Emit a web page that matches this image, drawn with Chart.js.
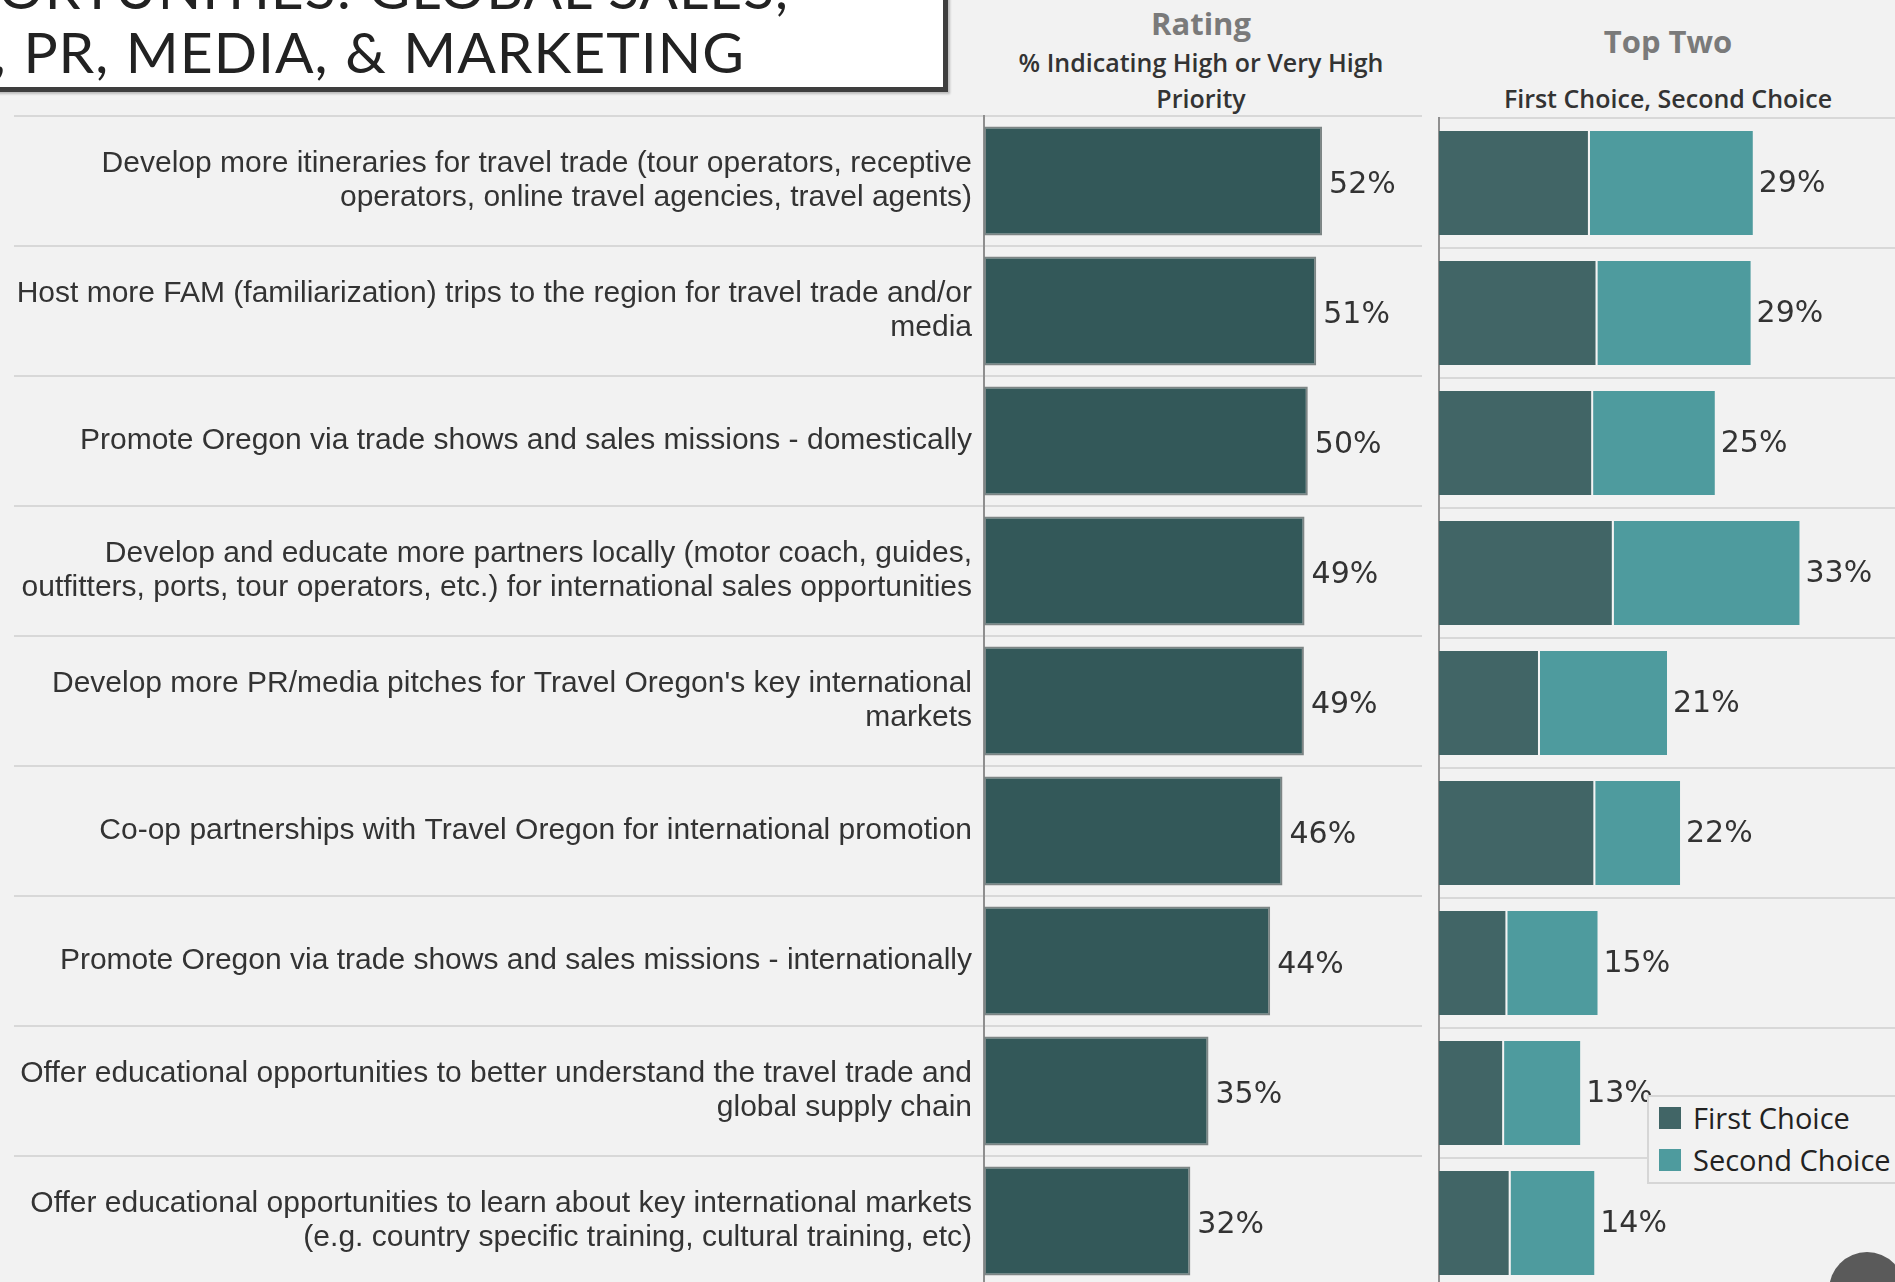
<!DOCTYPE html>
<html>
<head>
<meta charset="utf-8">
<script src="https://cdn.jsdelivr.net/npm/chart.js@4.4.0/dist/chart.umd.min.js"></script>
<style>
  html, body { margin: 0; padding: 0; }
  body { width: 1895px; height: 1282px; overflow: hidden; background: #f2f2f2; position: relative; font-family: "Open Sans", sans-serif; }
  .titlebox { position: absolute; left: -10px; top: -10px; width: 958px; height: 102px; box-sizing: border-box; background: #fff; border: 5px solid #3e3e3e; box-shadow: 2px 2px 2px #bbb; overflow: hidden; }
  .titleline { position: absolute; white-space: nowrap; font-family: "Lato", sans-serif; font-size: 57px; letter-spacing: 1px; word-spacing: 1px; color: #222; line-height: 1; }
  .hdr { position: absolute; text-align: center; white-space: nowrap; transform: translate(-50%, -50%); }
  .hdr.big { font-weight: 700; font-size: 31px; color: #7a7a7a; }
  .hdr.sub { font-weight: 600; font-size: 25px; color: #333; }
  canvas { position: absolute; }
  .legend { position: absolute; left: 1647px; top: 1095px; width: 270px; height: 89px; box-sizing: border-box; border: 2px solid #d6d6d6; background: #f2f2f2; }
  .legend .item { position: absolute; left: 10px; font-size: 29px; color: #222; line-height: 22px; white-space: nowrap; }
  .legend .sw { display: inline-block; width: 22px; height: 22px; vertical-align: top; margin-right: 12px; }
  .dot { position: absolute; left: 1829px; top: 1252px; width: 76px; height: 76px; border-radius: 50%; background: #5a5a5a; }
</style>
</head>
<body>
<div class="titlebox">
  <div class="titleline" style="top: -36px; right: 154px;">ORTUNITIES: GLOBAL SALES,</div>
  <div class="titleline" style="top: 28px; right: 198px;">, PR, MEDIA, &amp; MARKETING</div>
</div>

<div class="hdr big" style="left: 1201px; top: 23px;">Rating</div>
<div class="hdr sub" style="left: 1201px; top: 62px;">% Indicating High or Very High</div>
<div class="hdr sub" style="left: 1201px; top: 98px;">Priority</div>
<div class="hdr big" style="left: 1668px; top: 41px;">Top Two</div>
<div class="hdr sub" style="left: 1668px; top: 98px;">First Choice, Second Choice</div>

<canvas id="ratingChart" width="1422" height="1200" style="left: 0; top: 100px;"></canvas>
<canvas id="topTwoChart" width="471" height="1200" style="left: 1424px; top: 100px;"></canvas>

<div class="legend">
  <div class="item" style="top: 10px;"><span class="sw" style="background: #416566;"></span>First Choice</div>
  <div class="item" style="top: 52px;"><span class="sw" style="background: #4e9b9e;"></span>Second Choice</div>
</div>
<div class="dot"></div>

<script>
// Categories (one per row, long ones split on two lines like the original)
const categories = [
  ['Develop more itineraries for travel trade (tour operators, receptive', 'operators, online travel agencies, travel agents)'],
  ['Host more FAM (familiarization) trips to the region for travel trade and/or', 'media'],
  'Promote Oregon via trade shows and sales missions - domestically',
  ['Develop and educate more partners locally (motor coach, guides,', 'outfitters, ports, tour operators, etc.) for international sales opportunities'],
  ['Develop more PR/media pitches for Travel Oregon\'s key international', 'markets'],
  'Co-op partnerships with Travel Oregon for international promotion',
  'Promote Oregon via trade shows and sales missions - internationally',
  ['Offer educational opportunities to better understand the travel trade and', 'global supply chain'],
  ['Offer educational opportunities to learn about key international markets', '(e.g. country specific training, cultural training, etc)']
];

// % indicating high or very high priority
const ratingValues = [52.1, 51.2, 49.9, 49.4, 49.3, 46.0, 44.1, 34.6, 31.8];

// Top two : first choice / second choice
const firstChoice = [13.9, 14.6, 14.2, 16.1, 9.3, 14.4, 6.3, 6.0, 6.6];
const secondChoice = [15.0, 14.1, 11.2, 17.1, 11.7, 7.8, 8.3, 7.0, 7.7];

const gridColor = '#d8d8d8';
const axisColor = '#8f8f8f';

// Texte de valeur a droite de la derniere barre (total des jeux de donnees)
const valueLabels = {
  id: 'valueLabels',
  afterDatasetsDraw(chart, args, opts) {
    const ctx = chart.ctx;
    const last = chart.data.datasets.length - 1;
    const meta = chart.getDatasetMeta(last);
    ctx.save();
    ctx.font = opts.font;
    ctx.fillStyle = opts.color;
    ctx.textAlign = 'left';
    ctx.textBaseline = 'middle';
    meta.data.forEach((bar, i) => {
      let total = 0;
      chart.data.datasets.forEach(ds => { total += ds.data[i]; });
      ctx.fillText(Math.round(total) + '%', bar.x + opts.offset, bar.y + opts.dy);
    });
    ctx.restore();
  }
};

// Left chart : rating
new Chart(document.getElementById('ratingChart'), {
  type: 'bar',
  data: {
    labels: categories,
    datasets: [{
      label: 'Rating',
      data: ratingValues,
      backgroundColor: '#335859',
      borderColor: '#7d8585',
      borderWidth: 2,
      borderSkipped: false,
      categoryPercentage: 1,
      barPercentage: 0.84
    }]
  },
  options: {
    indexAxis: 'y',
    responsive: false,
    animation: false,
    layout: { padding: { top: 16, bottom: 14, left: 0, right: 0 } },
    plugins: {
      legend: { display: false },
      tooltip: { enabled: false },
      valueLabels: { font: '30px "DejaVu Sans"', color: '#333', offset: 7, dy: 4 }
    },
    scales: {
      x: { display: false, min: 0, max: 67.5 },
      y: {
        afterFit(scale) { scale.width = 984; },
        border: { display: true, color: axisColor, width: 2 },
        grid: { color: gridColor, lineWidth: 2, drawTicks: true, tickLength: 970, offset: true },
        ticks: {
          autoSkip: false,
          padding: -958,
          color: '#333',
          font: { family: '"Liberation Sans", Arial, sans-serif', size: 30, lineHeight: 1.13 }
        }
      }
    }
  },
  plugins: [valueLabels]
});

// Right chart : top two (stacked)
new Chart(document.getElementById('topTwoChart'), {
  type: 'bar',
  data: {
    labels: categories,
    datasets: [{
      label: 'First Choice',
      data: firstChoice,
      backgroundColor: '#416566',
      borderColor: '#f4f4f4',
      borderWidth: { top: 0, bottom: 0, left: 0, right: 2 },
      borderSkipped: false,
      categoryPercentage: 1,
      barPercentage: 0.8
    }, {
      label: 'Second Choice',
      data: secondChoice,
      backgroundColor: '#4e9b9e',
      borderWidth: 0,
      categoryPercentage: 1,
      barPercentage: 0.8
    }]
  },
  options: {
    indexAxis: 'y',
    responsive: false,
    animation: false,
    layout: { padding: { top: 18, bottom: 12, left: 0, right: 0 } },
    plugins: {
      legend: { display: false },
      tooltip: { enabled: false },
      valueLabels: { font: '30px "DejaVu Sans"', color: '#333', offset: 6, dy: 1 }
    },
    scales: {
      x: { display: false, stacked: true, min: 0, max: 42 },
      y: {
        stacked: true,
        afterFit(scale) { scale.width = 15; },
        border: { display: true, color: axisColor, width: 2 },
        grid: { color: gridColor, lineWidth: 2, drawTicks: false, offset: true },
        ticks: { display: false }
      }
    }
  },
  plugins: [valueLabels]
});
</script>
</body>
</html>
